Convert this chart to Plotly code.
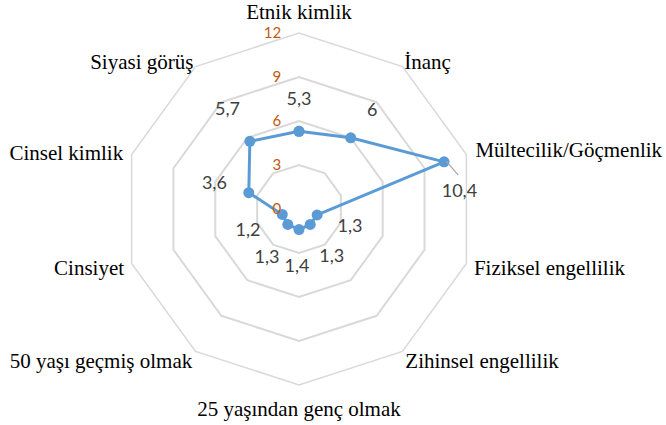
import plotly.graph_objects as go

# data
categories = [
    "Etnik kimlik", "İnanç", "Mültecilik/Göçmenlik", "Fiziksel engellilik",
    "Zihinsel engellilik", "25 yaşından genç olmak", "50 yaşı geçmiş olmak",
    "Cinsiyet", "Cinsel kimlik", "Siyasi görüş",
]
values = [5.3, 6, 10.4, 1.3, 1.3, 1.4, 1.3, 1.2, 3.6, 5.7]
radial_ticks = [0, 3, 6, 9, 12]

# label placement (style only)
label_dr = [2.1, 2.3, 0.6, 2.4, 2.7, 2.6, 2.7, 2.6, 2.4, 2.6]
label_dtheta = [0, 1, 12, 2, 2, 2, -3, -6, -2, 0]
cat_r = [13.28, 12.2, 12.65, 12.63, 12.74, 13.79, 12.79, 12.63, 12.54, 12.25]
cat_dtheta = [0, 0, 0, 1.2, 1.3, 0, -1.3, -1.2, -0.9, 0]
cat_pos = ["middle center", "middle right", "middle right", "middle right",
           "middle right", "middle center", "middle left", "middle left",
           "middle left", "middle left"]

BLUE = "#5B9BD5"
ORANGE = "#C55A11"
GRID = "#D9D9D9"
LABEL_FONT = dict(family="Lato", size=18, color="#404040")
CAT_FONT = dict(family="Liberation Serif", size=21, color="black")

step = 360 / len(categories)
angles = [i * step for i in range(len(categories))]
label_r = [v + d for v, d in zip(values, label_dr)]
label_theta = [a + d for a, d in zip(angles, label_dtheta)]
label_text = [f"{v:g}".replace(".", ",") for v in values]
cat_theta = [a + d for a, d in zip(angles, cat_dtheta)]

fig = go.Figure()

fig.add_trace(go.Scatterpolar(
    r=values + values[:1],
    theta=categories + categories[:1],
    mode="lines+markers",
    line=dict(color=BLUE, width=3),
    marker=dict(color=BLUE, size=11),
    showlegend=False,
    hoverinfo="skip",
))

# leader line for the moved 10,4 label
i_max = values.index(max(values))
fig.add_trace(go.Scatterpolar(
    r=[values[i_max] + 0.15, values[i_max] + 0.7],
    theta=[angles[i_max], angles[i_max] + 6],
    mode="lines",
    line=dict(color="#A6A6A6", width=1.2),
    subplot="polar2",
    showlegend=False,
    hoverinfo="skip",
))

# data labels
fig.add_trace(go.Scatterpolar(
    r=label_r,
    theta=label_theta,
    mode="text",
    text=label_text,
    textfont=LABEL_FONT,
    textposition="middle center",
    subplot="polar2",
    cliponaxis=False,
    showlegend=False,
    hoverinfo="skip",
))

# category labels
fig.add_trace(go.Scatterpolar(
    r=cat_r,
    theta=cat_theta,
    mode="text",
    text=categories,
    textfont=CAT_FONT,
    textposition=cat_pos,
    subplot="polar2",
    cliponaxis=False,
    showlegend=False,
    hoverinfo="skip",
))

# chart centre / radius in px; the overlay subplot reaches a bit further out
W, H = 666, 425
cx, cy, R = 299, 209, 176
r_max, r_over = 12, 14
R2 = R * r_over / r_max

domain = dict(x=[(cx - R) / W, (cx + R) / W], y=[1 - (cy + R) / H, 1 - (cy - R) / H])
domain2 = dict(x=[(cx - R2) / W, (cx + R2) / W], y=[1 - (cy + R2) / H, 1 - (cy - R2) / H])

fig.update_layout(
    width=W, height=H,
    margin=dict(l=0, r=0, t=0, b=0),
    paper_bgcolor="white",
    polar=dict(
        domain=domain,
        bgcolor="white",
        gridshape="linear",
        radialaxis=dict(
            range=[0, r_max],
            tickvals=radial_ticks,
            tickfont=dict(family="Lato", size=15, color=ORANGE),
            tickangle=90,
            angle=90,
            side="counterclockwise",
            showline=False,
            ticks="outside",
            ticklen=12,
            tickcolor="rgba(0,0,0,0)",
            gridcolor=GRID,
            gridwidth=1.5,
        ),
        angularaxis=dict(
            rotation=90,
            direction="clockwise",
            showgrid=False,
            showline=True,
            linecolor=GRID,
            linewidth=1.5,
            ticks="",
            showticklabels=False,
        ),
    ),
    polar2=dict(
        domain=domain2,
        bgcolor="rgba(0,0,0,0)",
        radialaxis=dict(range=[0, r_over], visible=False),
        angularaxis=dict(rotation=90, direction="clockwise", visible=False),
    ),
)

fig.write_html(
    "out.html",
    config={"displayModeBar": False},
    post_script="document.body.style.margin='0';",
)
